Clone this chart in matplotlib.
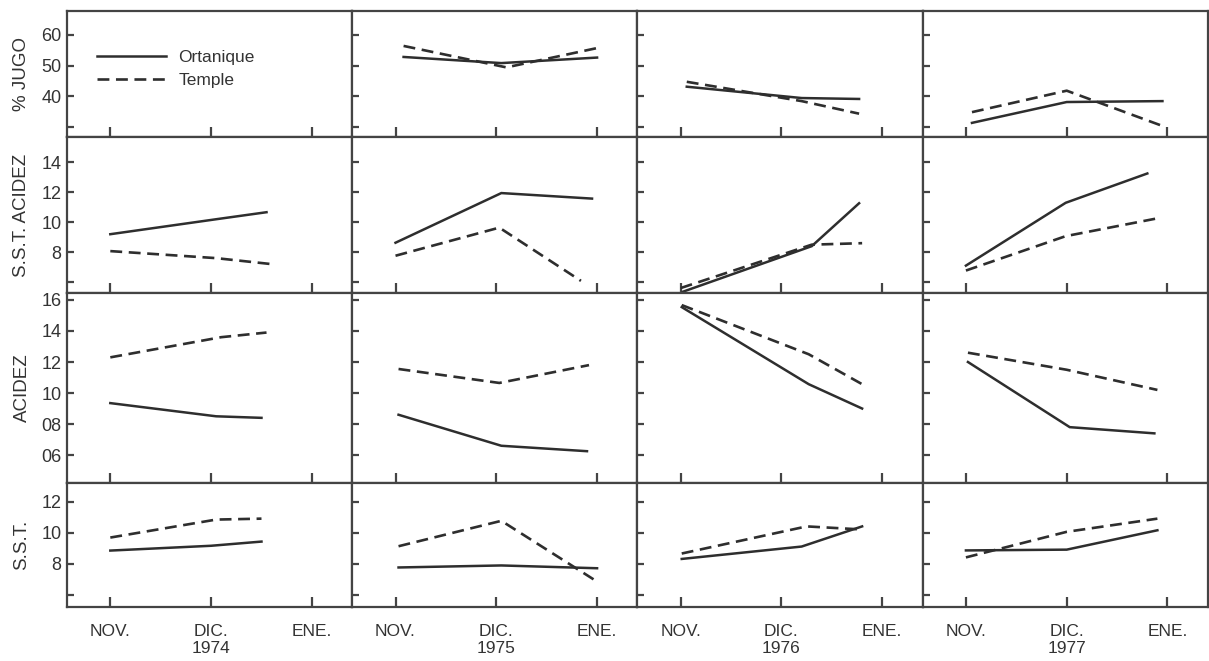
import matplotlib
matplotlib.use("Agg")
import matplotlib.pyplot as plt

plt.rcParams['font.family'] = ['Liberation Sans', 'DejaVu Sans']

years = ["1974", "1975", "1976", "1977"]
months = ["NOV.", "DIC.", "ENE."]
row_labels = ["% JUGO", "S.S.T. ACIDEZ", "ACIDEZ", "S.S.T."]

# y axis ticks and labels per row
row_ticks = [[60, 50, 40, 30],
             [14, 12, 10, 8, 6],
             [1.6, 1.4, 1.2, 1.0, 0.8, 0.6],
             [12, 10, 8, 6]]
row_ticklabels = [["60", "50", "40", ""],
                  ["14", "12", "10", "8", ""],
                  ["16", "14", "12", "10", "08", "06"],
                  ["12", "10", "8", ""]]
row_ylim = [(26.7, 67.8), (5.27, 15.7), (0.42, 1.645), (5.2, 13.2)]

# sample positions (0 = NOV, 1 = DIC, 2 = ENE) and values, one list per year
jugo_ort_x = [[], [0.08, 1.05, 2.0], [0.06, 1.2, 1.77], [0.06, 1.0, 1.95]]
jugo_ort_y = [[], [52.8, 50.8, 52.6], [43.1, 39.4, 39.1], [31.3, 38.1, 38.4]]
jugo_tem_x = [[], [0.08, 1.1, 2.0], [0.06, 1.2, 1.77], [0.06, 1.0, 1.95]]
jugo_tem_y = [[], [56.4, 49.4, 55.7], [44.7, 38.4, 34.3], [34.8, 41.8, 30.3]]

ratio_ort_x = [[0.0, 1.05, 1.55], [0.0, 1.05, 1.95], [0.02, 1.3, 1.77], [0.0, 0.99, 1.8]]
ratio_ort_y = [[9.2, 10.2, 10.67], [8.63, 11.95, 11.58], [5.35, 8.4, 11.27], [7.1, 11.3, 13.26]]
ratio_tem_x = [[0.0, 1.05, 1.6], [0.0, 1.03, 1.84], [0.0, 1.3, 1.8], [0.0, 0.99, 1.93]]
ratio_tem_y = [[8.07, 7.6, 7.2], [7.76, 9.64, 6.08], [5.6, 8.5, 8.6], [6.77, 9.07, 10.3]]

acid_ort_x = [[0.0, 1.05, 1.5], [0.03, 1.05, 1.9], [0.01, 1.27, 1.8], [0.02, 1.03, 1.87]]
acid_ort_y = [[0.935, 0.85, 0.84], [0.86, 0.66, 0.625], [1.554, 1.057, 0.90], [1.2, 0.78, 0.74]]
acid_tem_x = [[0.0, 1.1, 1.55], [0.03, 1.03, 1.92], [0.01, 1.27, 1.8], [0.02, 1.0, 1.9]]
acid_tem_y = [[1.23, 1.36, 1.39], [1.155, 1.065, 1.18], [1.567, 1.25, 1.057], [1.26, 1.15, 1.02]]

sst_ort_x = [[0.0, 1.0, 1.5], [0.03, 1.05, 2.0], [0.01, 1.2, 1.8], [0.0, 1.0, 1.9]]
sst_ort_y = [[8.84, 9.15, 9.42], [7.75, 7.88, 7.7], [8.3, 9.1, 10.4], [8.85, 8.9, 10.15]]
sst_tem_x = [[0.0, 1.05, 1.5], [0.03, 1.05, 2.0], [0.01, 1.25, 1.8], [0.0, 1.0, 1.9]]
sst_tem_y = [[9.68, 10.84, 10.9], [9.12, 10.76, 6.84], [8.65, 10.4, 10.2], [8.4, 10.05, 10.9]]

rows = [(jugo_ort_x, jugo_ort_y, jugo_tem_x, jugo_tem_y),
        (ratio_ort_x, ratio_ort_y, ratio_tem_x, ratio_tem_y),
        (acid_ort_x, acid_ort_y, acid_tem_x, acid_tem_y),
        (sst_ort_x, sst_ort_y, sst_tem_x, sst_tem_y)]

ink = "#2e2e2e"
fig, axes = plt.subplots(4, 4, figsize=(12.09, 6.61), dpi=100,
                         gridspec_kw=dict(height_ratios=[126, 156, 190, 124],
                                          wspace=0, hspace=0))
fig.subplots_adjust(left=0.0554, right=0.999, top=0.9834, bottom=0.0817)

for r in range(4):
    ox, oy, tx, ty = rows[r]
    for c in range(4):
        ax = axes[r, c]
        ax.set_xlim(-0.43, 2.40)
        ax.set_ylim(*row_ylim[r])
        for sp in ax.spines.values():
            sp.set_color("#444444")
            sp.set_linewidth(1.6)

        if ox[c]:
            ax.plot(ox[c], oy[c], color=ink, lw=1.8, solid_joinstyle="miter",
                    label="Ortanique")
            ax.plot(tx[c], ty[c], color=ink, lw=1.9, ls=(0, (4.5, 2.5)),
                    label="Temple")

        ax.set_xticks([0, 1, 2])
        if r == 3:
            ax.set_xticklabels([months[0], months[1] + "\n" + years[c], months[2]])
        else:
            ax.set_xticklabels([])
        ax.set_yticks(row_ticks[r])
        if c == 0:
            ax.set_yticklabels(row_ticklabels[r])
            ax.set_ylabel(row_labels[r], fontsize=13.5, color="#333333")
            ax.yaxis.set_label_coords(-0.128, 0.5)
        else:
            ax.set_yticklabels([])
        ax.tick_params(axis="x", direction="in", length=7, width=1.6,
                       color="#444444", labelsize=12.5, labelcolor="#333333", pad=12)
        ax.tick_params(axis="y", direction="in", length=5, width=1.6,
                       color="#444444", labelsize=13, labelcolor="#333333", pad=4)

# legend lives in the empty 1974 % JUGO panel
lx = axes[1, 1]
h, l = lx.get_legend_handles_labels()
axes[0, 0].legend(h, l, loc="upper left", bbox_to_anchor=(0.105, 0.69),
                  frameon=False, borderaxespad=0, borderpad=0,
                  handlelength=4.0, handletextpad=0.7, labelspacing=0.45,
                  fontsize=12.5, labelcolor="#333333")

fig.savefig("out.png", dpi=100)
